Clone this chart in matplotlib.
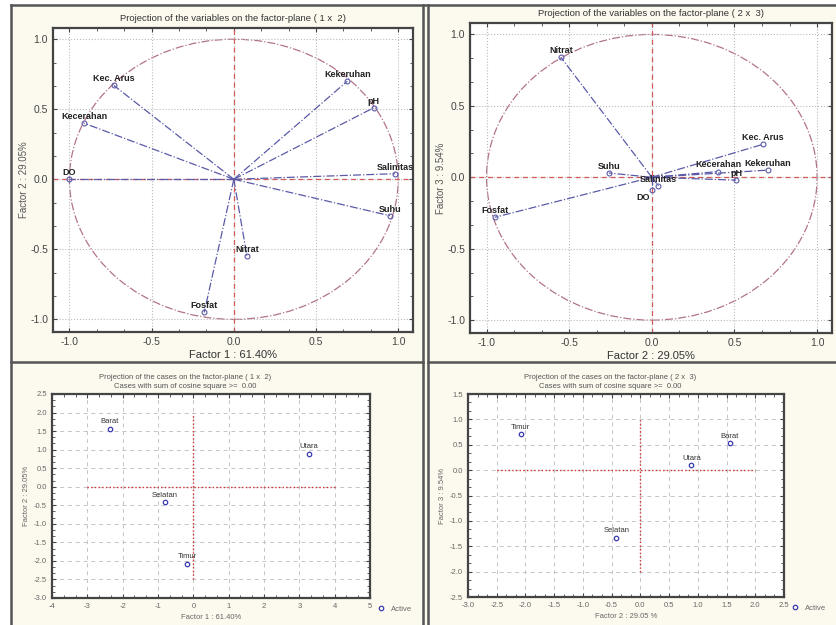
import matplotlib
matplotlib.use("Agg")
import matplotlib.pyplot as plt
from matplotlib.patches import Circle, Rectangle
from matplotlib.lines import Line2D
from matplotlib.ticker import MultipleLocator, AutoMinorLocator

plt.rcParams['font.family'] = ['Liberation Sans', 'DejaVu Sans']
plt.rcParams['axes.unicode_minus'] = False

# loadings of the variables on the factors
variabel = ['Kec. Arus', 'Kecerahan', 'DO', 'Kekeruhan', 'pH',
            'Salinitas', 'Suhu', 'Nitrat', 'Fosfat']
faktor1 = [-0.73, -0.91, -1.00, 0.69, 0.85, 0.98, 0.95, 0.08, -0.18]
faktor2 = [0.67, 0.40, 0.00, 0.70, 0.51, 0.04, -0.26, -0.55, -0.95]
faktor3 = [0.23, 0.04, -0.09, 0.05, -0.02, -0.06, 0.03, 0.84, -0.28]

# scores of the cases (stations)
stasiun = ['Barat', 'Utara', 'Selatan', 'Timur']
skor1 = [-2.37, 3.26, -0.80, -0.17]
skor2 = [1.56, 0.89, -0.42, -2.08]
skor3 = [0.53, 0.10, -1.33, 0.71]

W, H = 836, 625
fig = plt.figure(figsize=(W / 100, H / 100), dpi=100)
fig.patch.set_facecolor('white')


def kotak(x0, y0, x1, y1):
    # piksel -> fraksi figure
    return [x0 / W, 1 - y1 / H, (x1 - x0) / W, (y1 - y0) / H]


# latar krem dan garis bingkai panel
fig.add_artist(Rectangle((11 / W, 0), 1, 1 - 5 / H, transform=fig.transFigure,
                         facecolor='#fcf9ef', edgecolor='none', zorder=-10))
bingkai = dict(color='#555555', lw=1.8, transform=fig.transFigure)
fig.add_artist(Line2D([11 / W, 1], [1 - 5 / H, 1 - 5 / H], **bingkai))
fig.add_artist(Line2D([11 / W, 11 / W], [0, 1 - 5 / H], **bingkai))
fig.add_artist(Line2D([423 / W, 423 / W], [0, 1 - 5 / H], **bingkai))
fig.add_artist(Line2D([428 / W, 428 / W], [0, 1 - 5 / H], **bingkai))
fig.add_artist(Line2D([11 / W, 423 / W], [1 - 362 / H, 1 - 362 / H], **bingkai))
fig.add_artist(Line2D([428 / W, 1], [1 - 362 / H, 1 - 362 / H], **bingkai))


def gaya_sumbu(ax, ukuran, warna):
    for s in ax.spines.values():
        s.set_color('#444444')
        s.set_linewidth(1.6)
    ax.tick_params(which='both', direction='in', top=True, right=True,
                   labelsize=ukuran, labelcolor=warna, color='#444444')
    ax.tick_params(which='major', length=3)
    ax.tick_params(which='minor', length=2)
    ax.xaxis.set_minor_locator(AutoMinorLocator(3))
    ax.yaxis.set_minor_locator(AutoMinorLocator(3))
    ax.set_facecolor('white')


def plot_variabel(ax, xs, ys, judul, xlabel, ylabel, bawah=()):
    ax.set_xlim(-1.1, 1.09)
    ax.set_ylim(-1.09, 1.08)
    ax.xaxis.set_major_locator(MultipleLocator(0.5))
    ax.yaxis.set_major_locator(MultipleLocator(0.5))
    ax.xaxis.set_major_formatter('{x:.1f}')
    ax.yaxis.set_major_formatter('{x:.1f}')
    ax.grid(True, ls=':', color='#bbbbbb', lw=0.8)
    ax.axhline(0, color='#d05a5a', ls='--', lw=0.9, dashes=(4, 3))
    ax.axvline(0, color='#d05a5a', ls='--', lw=0.9, dashes=(4, 3))
    ax.add_patch(Circle((0, 0), 1, fill=False, ls='-.', ec='#b27488', lw=0.9))
    for nama, x, y in zip(variabel, xs, ys):
        ax.plot([0, x], [0, y], ls='-.', color='#5a5aa8', lw=0.9)
        ax.plot(x, y, 'o', ms=3.5, mfc='none', mec='#5a5aa8', mew=0.8)
        if nama in bawah:
            off, va = (-6, -2), 'top'
        else:
            off, va = (0, 1.5), 'bottom'
        ax.annotate(nama, (x, y), xytext=off, textcoords='offset points',
                    ha='center', va=va, fontsize=6.5, color='#222222',
                    fontweight='bold')
    gaya_sumbu(ax, 7.5, '#444444')
    ax.set_title(judul, fontsize=6.8, color='#333333', pad=5)
    ax.set_xlabel(xlabel, fontsize=8, color='#333333', labelpad=2)
    ax.set_ylabel(ylabel, fontsize=7, color='#555555', labelpad=1)


def plot_kasus(ax, xs, ys, judul, xlabel, ylabel, xlim, ylim, xstep,
               hline, vline, tx):
    ax.set_xlim(*xlim)
    ax.set_ylim(*ylim)
    ax.xaxis.set_major_locator(MultipleLocator(xstep))
    ax.yaxis.set_major_locator(MultipleLocator(0.5))
    if xstep < 1:
        ax.xaxis.set_major_formatter('{x:.1f}')
    ax.yaxis.set_major_formatter('{x:.1f}')
    ax.grid(True, ls=(0, (4, 4)), color='#c4c4c4', lw=0.7)
    ax.plot(hline, [0, 0], ls=':', color='#cc3333', lw=1.0)
    ax.plot([0, 0], vline, ls=':', color='#cc3333', lw=1.0)
    titik, = ax.plot(xs, ys, 'o', ms=3.2, mfc='none', mec='#3b3bb0', mew=0.9,
                     ls='none', label='Active')
    for nama, x, y in zip(stasiun, xs, ys):
        ax.annotate(nama, (x, y), xytext=(0, 2.5), textcoords='offset points',
                    ha='center', va='bottom', fontsize=5.5, color='#333333')
    gaya_sumbu(ax, 5.5, '#666666')
    ax.set_title(judul, fontsize=5.5, color='#555555', pad=4, x=tx,
                 linespacing=1.5)
    ax.set_xlabel(xlabel, fontsize=5.5, color='#666666', labelpad=3)
    ax.set_ylabel(ylabel, fontsize=5.5, color='#666666', labelpad=3)
    ax.legend(handles=[titik], loc='center left', bbox_to_anchor=(1.0, -0.055),
              frameon=False, fontsize=5.5, labelcolor='#666666',
              handletextpad=0.6, handlelength=1.2)


ax1 = fig.add_axes(kotak(53, 28, 413, 332))
plot_variabel(ax1, faktor1, faktor2,
              'Projection of the variables on the factor-plane ( 1 x  2)',
              'Factor 1 : 61.40%', 'Factor 2 : 29.05%')

ax2 = fig.add_axes(kotak(470, 23, 832, 333))
plot_variabel(ax2, faktor2, faktor3,
              'Projection of the variables on the factor-plane ( 2 x  3)',
              'Factor 2 : 29.05%', 'Factor 3 : 9.54%', bawah=('DO',))

ax3 = fig.add_axes(kotak(52, 394, 370, 598))
plot_kasus(ax3, skor1, skor2,
           'Projection of the cases on the factor-plane ( 1 x  2)\n'
           'Cases with sum of cosine square >=  0.00',
           'Factor 1 : 61.40%', 'Factor 2 : 29.05%',
           (-4, 5), (-3.0, 2.5), 1, [-3, 4], [-2.5, 2.0], 0.42)

ax4 = fig.add_axes(kotak(468, 394, 784, 597))
plot_kasus(ax4, skor2, skor3,
           'Projection of the cases on the factor-plane ( 2 x  3)\n'
           'Cases with sum of cosine square >=  0.00',
           'Factor 2 : 29.05 %', 'Factor 3 : 9.54%',
           (-3.0, 2.5), (-2.5, 1.5), 0.5, [-2.5, 2.0], [-2.0, 1.0], 0.45)

fig.savefig('out.png', dpi=100)
